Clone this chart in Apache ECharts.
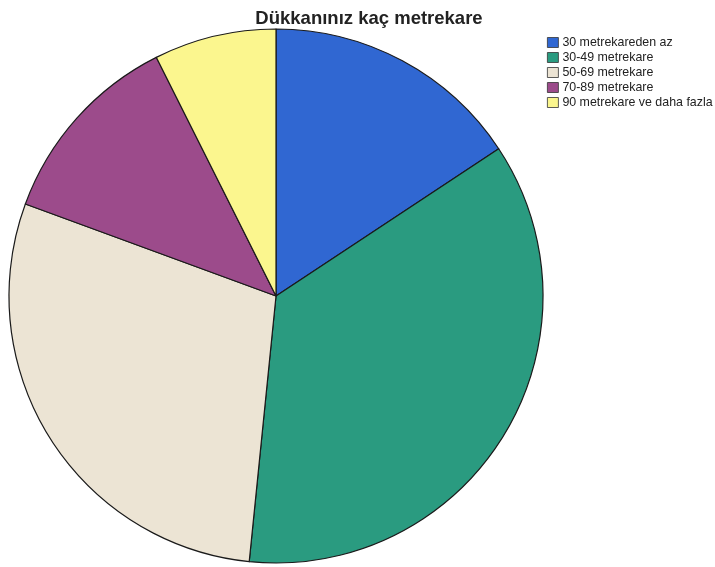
<!DOCTYPE html>
<html>
<head>
<meta charset="utf-8">
<script src="https://cdn.jsdelivr.net/npm/echarts@6/dist/echarts.min.js"></script>
<style>
  html, body { margin: 0; padding: 0; background: #fff; }
  #chart { width: 715px; height: 567px; }
</style>
</head>
<body>
<div id="chart"></div>
<script>
// Shop floor area groups (percent of respondents)
const categories = [
  '30 metrekareden az',
  '30-49 metrekare',
  '50-69 metrekare',
  '70-89 metrekare',
  '90 metrekare ve daha fazla'
];
const shares = [15.7, 35.9, 29.0, 12.0, 7.4];
const sliceColors = ['#3067d2', '#2a9b80', '#ece4d4', '#9c4b8b', '#fbf68e'];

const chart = echarts.init(document.getElementById('chart'));
chart.setOption({
  animation: false,
  backgroundColor: '#ffffff',
  title: {
    text: 'Dükkanınız kaç metrekare',
    left: 364,
    top: 4,
    textAlign: 'center',
    textStyle: {
      fontFamily: 'Liberation Sans, Arial, sans-serif',
      fontSize: 18.5,
      fontWeight: 'bold',
      color: '#222'
    }
  },
  legend: {
    orient: 'vertical',
    left: 542,
    top: 31,
    itemWidth: 11,
    itemHeight: 10,
    itemGap: 2,
    icon: 'rect',
    selectedMode: false,
    textStyle: {
      fontFamily: 'Liberation Sans, Arial, sans-serif',
      fontSize: 12.4,
      lineHeight: 13,
      color: '#222',
      padding: [0, 0, 0, -1]
    },
    itemStyle: { borderColor: '#333', borderWidth: 0.8 },
    data: categories
  },
  series: [{
    type: 'pie',
    center: [276, 296],
    radius: [0, 267],
    startAngle: 90,
    clockwise: true,
    label: { show: false },
    labelLine: { show: false },
    emphasis: { disabled: true },
    itemStyle: { borderColor: '#1a1a1a', borderWidth: 1.2 },
    data: categories.map((name, i) => ({
      name: name,
      value: shares[i],
      itemStyle: { color: sliceColors[i] }
    }))
  }]
});
</script>
</body>
</html>
